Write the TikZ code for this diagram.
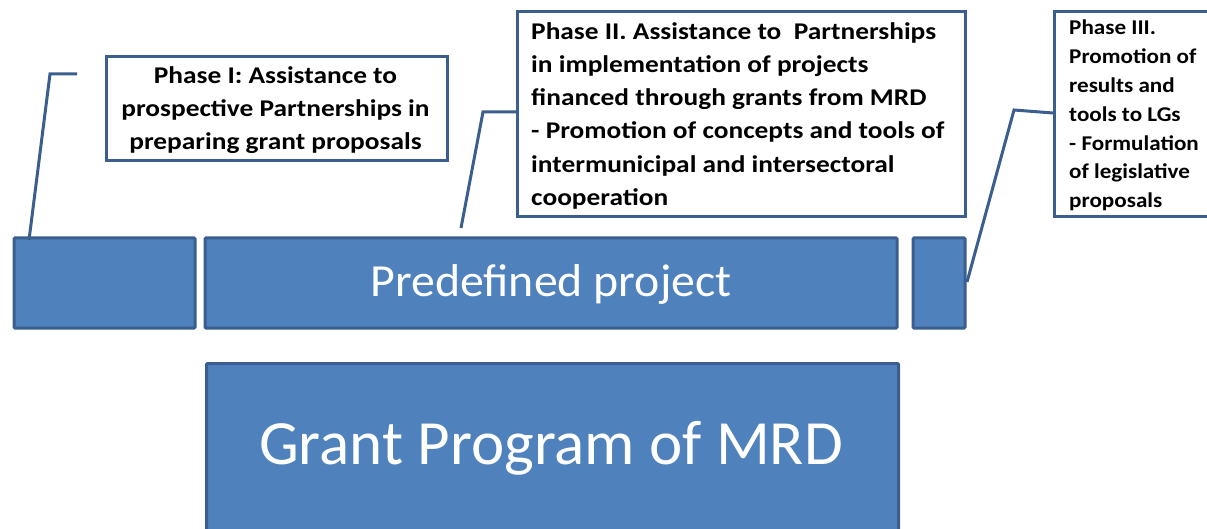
\documentclass[tikz,border=0pt]{standalone}
\usepackage{fontspec}
\setmainfont{Carlito}
\newfontfamily\phfont[FakeStretch=1.14]{Carlito}
\newfontfamily\phsfont[FakeStretch=1.1]{Carlito}
\newfontfamily\wfont[FakeStretch=1.04]{Carlito}
\definecolor{fillb}{HTML}{4F81BD}
\definecolor{lineb}{HTML}{3A5F8E}
\begin{document}
\begin{tikzpicture}[x=1pt,y=-1pt,
  bluebox/.style={draw=lineb,fill=fillb,line width=3pt,rounded corners=1pt,inner sep=0pt,text=white},
  callout/.style={draw=lineb,fill=white,line width=3pt,inner sep=0pt},
  leader/.style={draw=lineb,line width=3pt}]
\useasboundingbox (0,0) rectangle (1207,529);
\clip (0,0) rectangle (1207,529);
% bars
\node[bluebox,minimum width=181pt,minimum height=90pt] (a) at (104.5,283) {};
\node[bluebox,minimum width=692pt,minimum height=90pt] (pp) at (551,283) {};
\node[font=\wfont\fontsize{46}{52}\selectfont,text=white] (ppt) at (551,284) {Predefined project};
\node[bluebox,minimum width=52pt,minimum height=90pt] (c) at (939,283) {};
\node[bluebox,minimum width=692pt,minimum height=190pt,anchor=north west] (gp) at (205,362) {};
\node[font=\fontsize{63}{70}\selectfont,text=white] (gpt) at (551,448) {Grant Program of MRD};
% callouts
\node[callout,minimum width=341pt,minimum height=104pt,anchor=north west] (b1) at (105,55) {};
\node[font=\phfont\bfseries\fontsize{24}{33}\selectfont,align=center] (t1) at (275.5,110) {Phase I: Assistance to\\prospective Partnerships in\\preparing grant proposals};
\node[callout,minimum width=448pt,minimum height=205pt,anchor=north west] (b2) at (516,10) {};
\node[font=\phfont\bfseries\fontsize{24}{33.3}\selectfont,align=left,anchor=north west,inner sep=0pt] (t2) at (531,22) {Phase II. Assistance to~ Partnerships\\in implementation of projects\\financed through grants from MRD\\- Promotion of concepts and tools of\\intermunicipal and intersectoral\\cooperation};
\node[callout,minimum width=200pt,minimum height=205pt,anchor=north west] (b3) at (1053,10) {};
\node[font=\phsfont\bfseries\fontsize{21}{28.8}\selectfont,align=left,anchor=north west,inner sep=0pt] (t3) at (1069,20) {Phase III.\\Promotion of\\results and\\tools to LGs\\- Formulation\\of legislative\\proposals};
% leaders
\coordinate (l1s) at (77,74);
\coordinate (l1m) at (50,74);
\coordinate (l1e) at (29,240);
\draw[leader] (l1s) -- (l1m) -- (l1e);
\coordinate (l2m) at (483,112);
\coordinate (l2e) at (461,228);
\draw[leader] (b2.west |- l2m) -- (l2m) -- (l2e);
\coordinate (l3s) at (1053,113);
\coordinate (l3m) at (1014,110);
\coordinate (l3e) at (967,282);
\draw[leader] (l3s) -- (l3m) -- (l3e);
\end{tikzpicture}
\end{document}
